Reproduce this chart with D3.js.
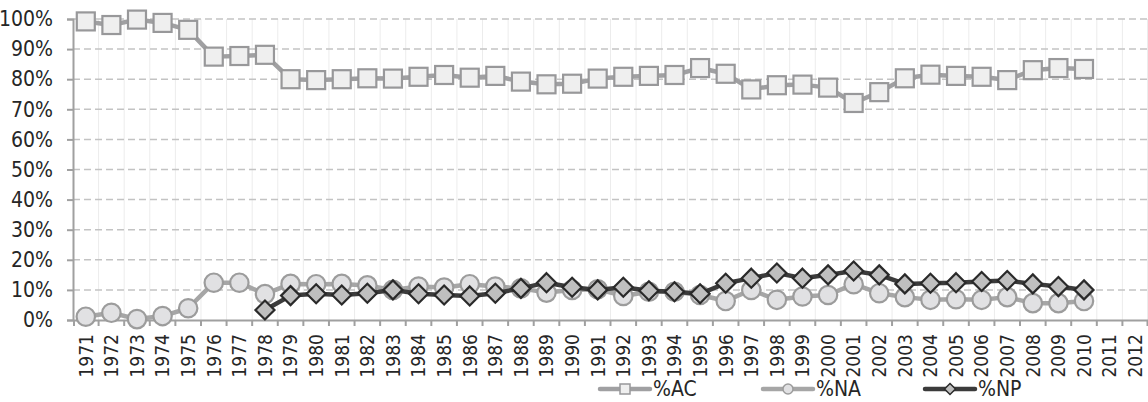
<!DOCTYPE html>
<html>
<head>
<meta charset="utf-8">
<script src="https://cdn.jsdelivr.net/npm/d3@7"></script>
<style>
  html, body { margin: 0; padding: 0; background: #ffffff; }
  svg { display: block; }
  text { font-family: 'Liberation Sans Narrow', 'DejaVu Sans Condensed', sans-serif; fill: #262626; }
</style>
</head>
<body>
<svg id="chart" width="1148" height="402"></svg>
<script>
// ---- data ----
const years = d3.range(1971, 2013).map(String);
const yTicks = [0, 10, 20, 30, 40, 50, 60, 70, 80, 90, 100];
const seriesNames = ["%AC", "%NA", "%NP"];
const acValues = [99.2, 98, 99.8, 98.7, 96.4, 87.5, 87.7, 88.1, 80, 79.7,
                  80, 80.3, 80.2, 80.8, 81.4, 80.5, 81.1, 79.2, 78.3, 78.5,
                  80.2, 80.8, 81.1, 81.4, 83.7, 81.8, 76.6, 78, 78.2, 77.2,
                  72.1, 75.7, 80.3, 81.5, 81.1, 80.8, 79.7, 83, 83.7, 83.4];
const naValues = [1.1, 2.4, 0.3, 1.3, 3.9, 12.4, 12.4, 8.6, 12, 11.9,
                  12, 11.5, 10, 11.1, 10.8, 11.9, 11.1, 10.5, 9.1, 10,
                  10.2, 8, 9.4, 9.4, 8.3, 6.3, 10, 6.7, 7.8, 8.3,
                  11.9, 8.9, 7.6, 6.7, 6.9, 6.7, 7.6, 5.6, 5.6, 6.3];
const npValues = [null, null, null, null, null, null, null, 3.3, 8.1, 8.7,
                  8.3, 8.9, 10, 8.7, 8.3, 8.0, 8.9, 10.5, 12.4, 10.9,
                  10, 10.9, 9.7, 9.4, 8.7, 12.2, 13.9, 15.6, 13.9, 15,
                  16.3, 15, 12, 12.2, 12.4, 12.8, 13.1, 12, 11.1, 10];

// ---- layout ----
const W = 1148, H = 402;
const plot = { left: 73, right: 1148, top: 19, bottom: 320 };
const svg = d3.select("#chart");

const x = d3.scaleBand().domain(years).range([plot.left, plot.right]).padding(0);
const y = d3.scaleLinear().domain([0, 100]).range([plot.bottom, plot.top]);
const cx = d => x(d) + x.bandwidth() / 2;

// vertical light gridlines at category boundaries
const bounds = years.slice(1).map(d => x(d)).concat([plot.right - 0.5]);
svg.append("g").selectAll("line").data(bounds).join("line")
  .attr("x1", d => d).attr("x2", d => d)
  .attr("y1", plot.top).attr("y2", plot.bottom)
  .attr("stroke", "#ececec").attr("stroke-width", 1);

// horizontal dashed gridlines
svg.append("g").selectAll("line").data(yTicks.filter(t => t > 0)).join("line")
  .attr("x1", plot.left).attr("x2", plot.right)
  .attr("y1", d => y(d)).attr("y2", d => y(d))
  .attr("stroke", "#c3c3c3").attr("stroke-width", 1.5)
  .attr("stroke-dasharray", "7,4");

// y axis
const yAxis = svg.append("g").attr("transform", `translate(${plot.left},0)`)
  .call(d3.axisLeft(y).tickValues(yTicks).tickFormat(d => d + "%").tickSize(6).tickPadding(14));
yAxis.select(".domain").attr("stroke", "#a0a0a0").attr("stroke-width", 2);
yAxis.selectAll(".tick line").attr("stroke", "#a0a0a0").attr("stroke-width", 2);
yAxis.selectAll(".tick text").style("font-size", "21px").attr("fill", "#262626")
  .style("font-family", "'Liberation Sans Narrow', 'DejaVu Sans Condensed', sans-serif");

// x axis
const xAxis = svg.append("g").attr("transform", `translate(0,${plot.bottom})`)
  .call(d3.axisBottom(x).tickSize(0).tickPadding(0));
xAxis.select(".domain").attr("stroke", "#a0a0a0").attr("stroke-width", 2);
xAxis.selectAll(".tick text")
  .attr("transform", "rotate(-90)")
  .attr("x", -14).attr("y", 0).attr("dy", "0.36em")
  .style("text-anchor", "end")
  .style("font-size", "19px").attr("fill", "#262626")
  .style("font-family", "'Liberation Sans Narrow', 'DejaVu Sans Condensed', sans-serif");
// boundary tick marks
const tickPos = [plot.left + 1].concat(bounds);
svg.append("g").selectAll("line").data(tickPos).join("line")
  .attr("x1", d => d).attr("x2", d => d)
  .attr("y1", plot.bottom).attr("y2", plot.bottom + 6)
  .attr("stroke", "#a0a0a0").attr("stroke-width", 2);

// ---- series ----
function pts(vals) {
  return years.map((yr, i) => ({ yr, v: i < vals.length ? vals[i] : null })).filter(p => p.v != null);
}
const line = d3.line().x(p => cx(p.yr)).y(p => y(p.v));

const styles = {
  "%AC": { line: "#a0a0a2", fill: "#efefef", stroke: "#98989a", shape: "square" },
  "%NA": { line: "#a6a6a6", fill: "#e1e1e3", stroke: "#9c9c9c", shape: "circle" },
  "%NP": { line: "#3b3b3b", fill: "#bfbfbf", stroke: "#2a2a2a", shape: "diamond" }
};
const dataBy = { "%AC": pts(acValues), "%NA": pts(naValues), "%NP": pts(npValues) };

function drawMarker(g, shape, s, fill, stroke, sw) {
  if (shape === "square") {
    g.append("rect").attr("x", -s).attr("y", -s).attr("width", 2 * s).attr("height", 2 * s)
      .attr("fill", fill).attr("stroke", stroke).attr("stroke-width", sw);
  } else if (shape === "circle") {
    g.append("circle").attr("r", s).attr("fill", fill).attr("stroke", stroke).attr("stroke-width", sw);
  } else {
    g.append("path").attr("d", `M0,${-s}L${s},0L0,${s}L${-s},0Z`)
      .attr("fill", fill).attr("stroke", stroke).attr("stroke-width", sw).attr("stroke-linejoin", "miter");
  }
}
const markerSize = { square: 9, circle: 9.2, diamond: 9.5 };

seriesNames.forEach(name => {
  const st = styles[name];
  const d = dataBy[name];
  svg.append("path").datum(d).attr("d", line)
    .attr("fill", "none").attr("stroke", st.line).attr("stroke-width", 4.5)
    .attr("stroke-linejoin", "round");
  const mg = svg.append("g");
  d.forEach(p => {
    const g = mg.append("g").attr("transform", `translate(${cx(p.yr)},${y(p.v)})`);
    drawMarker(g, st.shape, markerSize[st.shape], st.fill, st.stroke, 2.2);
  });
});

// ---- legend ----
const legendX = [600, 763, 925];
const legendY = 389;
seriesNames.forEach((name, i) => {
  const st = styles[name];
  const g = svg.append("g").attr("transform", `translate(${legendX[i]},${legendY})`);
  g.append("line").attr("x1", 0).attr("x2", 50).attr("y1", 0).attr("y2", 0)
    .attr("stroke", st.line).attr("stroke-width", 4.5).attr("stroke-linecap", "round");
  const m = g.append("g").attr("transform", "translate(25,0)");
  drawMarker(m, st.shape, st.shape === "diamond" ? 5.5 : 5, st.fill, st.stroke, 1.5);
  g.append("text").attr("x", 53).attr("y", 0).attr("dy", "0.35em")
    .style("font-size", "21px").text(name);
});
</script>
</body>
</html>
